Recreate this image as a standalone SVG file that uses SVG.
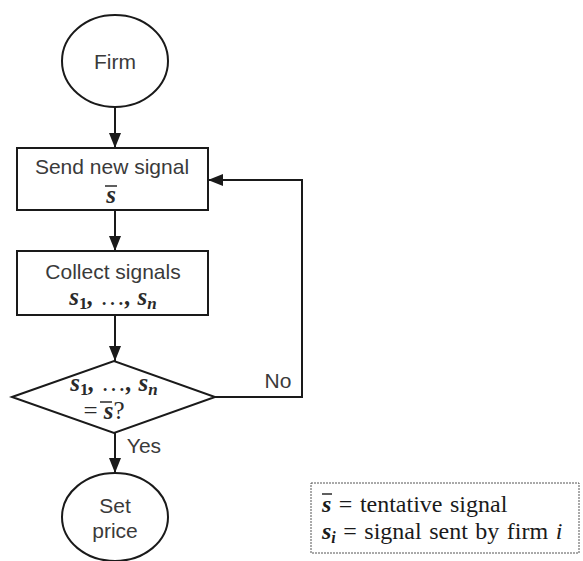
<svg xmlns="http://www.w3.org/2000/svg" width="583" height="561" viewBox="0 0 583 561">
<style>
.shape{fill:#fff;stroke:#1a1a1a;stroke-width:2}
.conn{fill:none;stroke:#1a1a1a;stroke-width:2}
.lbl{font-family:"Liberation Sans",Arial,sans-serif;font-size:21px;fill:#3a3a3a;text-anchor:middle}
.math{font-family:"Liberation Serif","Times New Roman",serif;font-size:25px;font-weight:bold;font-style:italic;fill:#2a2a2a;text-anchor:middle}
.sub{font-size:17px}
.num{font-style:normal}
.up{font-style:normal;font-weight:normal}
.leg{font-family:"Liberation Serif","Times New Roman",serif;font-size:24px;fill:#1a1a1a;word-spacing:1.5px}
.bar{stroke:#2a2a2a;stroke-width:1.5}
</style>
<defs>
<marker id="ah" markerUnits="userSpaceOnUse" markerWidth="15" markerHeight="12" refX="15" refY="6" orient="auto">
<path d="M0,0 L15,6 L0,12 z" fill="#1a1a1a"/>
</marker>
</defs>
<g id="connectors">
<line class="conn" x1="115" y1="107" x2="115" y2="148" marker-end="url(#ah)"/>
<line class="conn" x1="115" y1="210" x2="115" y2="251" marker-end="url(#ah)"/>
<line class="conn" x1="115" y1="315" x2="115" y2="361" marker-end="url(#ah)"/>
<line class="conn" x1="115" y1="433" x2="115" y2="473" marker-end="url(#ah)"/>
<polyline class="conn" points="215,397 302,397 302,180 208,180" marker-end="url(#ah)"/>
<text class="lbl" x="278" y="388">No</text>
<text class="lbl" x="144" y="453">Yes</text>
</g>
<g id="firm">
<ellipse class="shape" cx="115" cy="61" rx="53" ry="46"/>
<text class="lbl" x="115" y="69">Firm</text>
</g>
<g id="send">
<rect class="shape" x="17" y="148" width="191" height="62"/>
<text class="lbl" x="112" y="174">Send new signal</text>
<text class="math" x="111" y="203">s</text>
<line class="bar" x1="105" y1="186" x2="117" y2="186"/>
</g>
<g id="collect">
<rect class="shape" x="17" y="251" width="191" height="64"/>
<text class="lbl" x="113" y="279">Collect signals</text>
<text class="math" x="113" y="305">s<tspan class="sub num" dy="4">1</tspan><tspan dy="-4">, </tspan><tspan class="up">…</tspan>, s<tspan class="sub" dy="4">n</tspan></text>
</g>
<g id="decision">
<polygon class="shape" points="12,397 114,361 215,397 114,433"/>
<text class="math" x="114" y="391">s<tspan class="sub num" dy="4">1</tspan><tspan dy="-4">, </tspan><tspan class="up">…</tspan>, s<tspan class="sub" dy="4">n</tspan></text>
<text class="math" x="104" y="419"><tspan class="up">= </tspan>s<tspan class="up">?</tspan></text>
<line class="bar" x1="100" y1="402" x2="112" y2="402"/>
</g>
<g id="setprice">
<ellipse class="shape" cx="115" cy="517" rx="53" ry="44"/>
<text class="lbl" x="115" y="513">Set</text>
<text class="lbl" x="115" y="538">price</text>
</g>
<g id="legend">
<rect x="311" y="483" width="268" height="70" fill="#fff" stroke="#555" stroke-width="1" stroke-dasharray="2,1"/>
<text class="leg" x="322" y="512"><tspan font-weight="bold" font-style="italic">s</tspan> = tentative signal</text>
<line class="bar" x1="322" y1="494" x2="332" y2="494"/>
<text class="leg" x="322" y="539"><tspan font-weight="bold" font-style="italic">s</tspan><tspan font-weight="bold" font-style="italic" font-size="16" dy="4">i</tspan><tspan dy="-4"> = signal sent by firm </tspan><tspan font-style="italic">i</tspan></text>
</g>
</svg>
